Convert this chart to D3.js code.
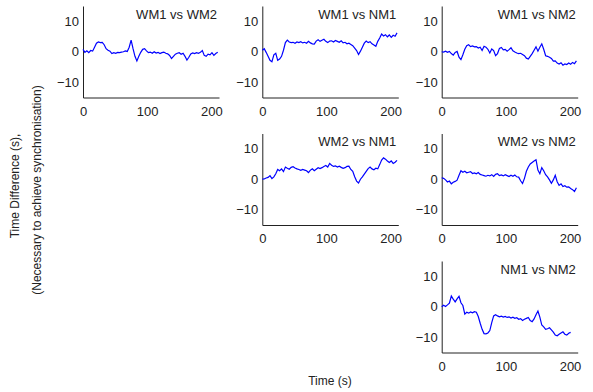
<!DOCTYPE html>
<html>
<head>
<meta charset="utf-8">
<script src="https://cdn.jsdelivr.net/npm/d3@7"></script>
<style>
  body { margin: 0; background: #fff; }
  svg { display: block; font-family: "Liberation Sans", Arial, sans-serif; }
</style>
</head>
<body>
<div id="chart"></div>
<script>
// Datos (una muestra cada 3 s)
const step = 3;
const xTicks = [0, 100, 200];
const yTicks = [-10, 0, 10];

const wm1wm2 = [0.8, -0.2, 0.3, -0.3, 0.4, 0.2, 1.5, 2.8, 3.2, 3.0, 3.1, 2.3, 1.0, 0.5, 0.2, -0.6, -0.3, -0.5, -0.2, -0.3,
  -0.1, 0.0, 0.3, 0.1, 1.5, 3.8, 1.0, -1.5, -3.0, -1.5, -0.2, 0.8, 1.0, 0.3, -0.3, -0.1, -0.5, 0.0, -0.4, -0.2,
  -0.6, -0.3, -0.1, -0.5, -0.7, -1.2, -2.2, -1.5, -0.8, -0.5, -0.3, -0.8, -0.5, -1.5, -2.7, -1.8, -0.7, -0.4, -0.6, -0.3,
  -0.5, -0.2, 0.4, -1.2, -1.5, -0.8, -1.0, -0.3, -1.2, -0.6, -0.2];

const wm1nm1 = [0.5, 1.0, -0.2, -1.5, -2.8, -3.3, -1.0, -0.5, -2.8, -2.4, -1.5, 0.5, 3.0, 3.8, 3.2, 3.0, 3.1, 2.8, 3.2, 3.0,
  3.3, 2.9, 3.1, 2.8, 3.4, 2.9, 2.6, 2.5, 3.5, 3.9, 3.4, 3.8, 4.1, 3.4, 3.0, 3.5, 3.6, 3.2, 3.7, 3.4,
  3.1, 3.6, 2.9, 3.1, 2.6, 2.8, 2.4, 2.0, 1.2, 0.4, -0.9, 0.2, 1.5, 2.8, 3.5, 3.0, 3.3, 2.6, 2.2, 1.8,
  3.4, 4.5, 5.8, 5.2, 5.6, 4.9, 5.5, 4.7, 5.4, 5.1, 6.2];

const wm1nm2 = [0.0, -0.1, 0.2, -0.2, 0.1, -0.6, -1.1, -0.2, 0.1, -1.8, -2.6, -1.0, 0.8, 2.0, 2.3, 1.7, 1.9, 1.6, 1.7, 1.2,
  1.5, 0.4, 1.8, 1.5, 0.8, -0.4, 0.9, 0.4, -1.3, -0.6, 1.1, 1.4, 0.6, 0.8, 0.2, 0.7, 1.3, 0.3, -0.1, -0.4,
  -0.6, -0.5, -0.9, -1.3, -2.1, -2.4, -1.5, -0.6, 0.5, 1.6, 0.2, 1.5, 2.6, 0.8, -1.3, -1.5, -1.8, -2.2, -3.1, -3.0,
  -3.7, -4.0, -3.6, -4.4, -4.0, -4.2, -3.7, -4.1, -3.5, -3.9, -3.0];

const wm2nm1 = [0.0, 0.1, 0.4, 0.6, 1.2, 0.2, 0.8, 1.8, 3.2, 2.8, 3.4, 2.5, 4.0, 3.6, 3.3, 3.9, 4.1, 3.7, 3.4, 3.2,
  2.9, 3.2, 3.0, 2.8, 2.2, 3.0, 3.4, 2.8, 3.3, 3.8, 3.5, 3.8, 4.2, 4.5, 4.0, 5.2, 4.6, 4.2, 4.4, 4.0,
  4.3, 3.9, 3.6, 3.8, 4.2, 4.3, 3.2, 2.6, 0.8, -0.6, -1.2, 0.0, 0.8, 1.7, 2.6, 3.5, 4.0, 3.4, 3.1, 3.6,
  3.4, 4.8, 6.3, 7.0, 6.6, 6.0, 5.5, 6.0, 5.2, 5.6, 6.2];

const wm2nm2 = [0.5, 0.3, -0.2, -0.9, -0.6, -1.5, -1.0, -0.7, -0.3, 1.3, 2.8, 2.3, 2.6, 2.1, 2.3, 2.5, 1.9, 2.1, 1.8, 2.2,
  1.6, 1.4, 1.2, 1.0, 1.3, 1.1, 1.5, 0.9, 1.6, 1.8, 1.2, 1.4, 1.1, 1.5, 1.2, 0.9, 1.3, 1.0, 1.4, 0.8,
  0.7, -0.5, -1.4, 0.3, 2.6, 4.0, 5.0, 5.5, 6.0, 6.4, 3.0, 1.8, 3.8, 2.8, 1.5, 0.8, -0.2, -1.3, -0.2, 1.3,
  -0.8, -2.0, -1.5, -2.4, -2.1, -2.6, -2.5, -3.0, -3.4, -4.0, -2.8];

const nm1nm2 = [0.0, 0.5, 0.1, 0.6, 1.2, 3.5, 2.5, 1.6, 2.6, 3.4, 1.3, 0.4, -2.4, -1.8, -2.1, -1.7, -2.0, -1.6, -1.8, -3.2,
  -5.4, -7.4, -8.8, -8.9, -8.6, -7.8, -5.2, -3.0, -2.6, -3.0, -3.3, -3.1, -3.4, -3.2, -3.5, -3.3, -3.7, -3.4, -3.8, -3.6,
  -4.1, -3.9, -4.5, -4.1, -3.8, -3.5, -4.5, -4.9, -4.0, -2.6, -1.4, -3.4, -6.0, -6.6, -7.4, -7.2, -6.9, -7.6, -8.3, -9.3,
  -9.5, -9.0, -8.6, -8.2, -9.0, -9.3, -8.7, -8.4];

// Paneles: fila, columna, título, serie
const panels = [
  { title: 'WM1 vs WM2', row: 0, col: 0, data: wm1wm2 },
  { title: 'WM1 vs NM1', row: 0, col: 1, data: wm1nm1 },
  { title: 'WM1 vs NM2', row: 0, col: 2, data: wm1nm2 },
  { title: 'WM2 vs NM1', row: 1, col: 1, data: wm2nm1 },
  { title: 'WM2 vs NM2', row: 1, col: 2, data: wm2nm2 },
  { title: 'NM1 vs NM2', row: 2, col: 2, data: nm1nm2 }
];

const W = 593, H = 392;
const pw = 136, ph = 91.5;
const colX = [83, 262.3, 441.7];
const rowY = [6, 133.5, 261];

const svg = d3.select('#chart').append('svg')
  .attr('width', W).attr('height', H);

const x = d3.scaleLinear().domain([0, 212]).range([0, pw]);
const y = d3.scaleLinear().domain([-15, 15]).range([ph, 0]);
const line = d3.line().x((d, i) => x(i * step)).y(d => y(d));

panels.forEach(p => {
  const g = svg.append('g')
    .attr('transform', `translate(${colX[p.col]},${rowY[p.row]})`);

  const xAxis = g.append('g')
    .attr('transform', `translate(0,${ph})`)
    .call(d3.axisBottom(x).tickValues(xTicks).tickSize(0).tickPadding(9).tickSizeOuter(0));
  const yAxis = g.append('g')
    .call(d3.axisLeft(y).tickValues(yTicks).tickSize(0).tickPadding(4).tickSizeOuter(0));

  [xAxis, yAxis].forEach(a => {
    a.select('.domain').attr('stroke', '#222').attr('stroke-width', 1);
    a.selectAll('text').attr('font-size', 13).attr('fill', '#222')
      .attr('font-family', '"Liberation Sans", Arial, sans-serif');
  });

  g.append('path')
    .datum(p.data)
    .attr('d', line)
    .attr('fill', 'none')
    .attr('stroke', '#0000ff')
    .attr('stroke-width', 1.2);

  g.append('text')
    .attr('x', pw - 2)
    .attr('y', 12.5)
    .attr('text-anchor', 'end')
    .attr('font-size', 13)
    .attr('fill', '#222')
    .text(p.title);
});

// Etiquetas de ejes
svg.append('text')
  .attr('x', 330).attr('y', 385)
  .attr('text-anchor', 'middle')
  .attr('font-size', 12)
  .attr('fill', '#222')
  .text('Time (s)');

svg.append('text')
  .attr('transform', 'translate(19,186) rotate(-90)')
  .attr('text-anchor', 'middle')
  .attr('font-size', 12)
  .attr('fill', '#222')
  .text('Time Difference (s),');

svg.append('text')
  .attr('transform', 'translate(41,190) rotate(-90)')
  .attr('text-anchor', 'middle')
  .attr('font-size', 12)
  .attr('fill', '#222')
  .text('(Necessary to achieve synchronisation)');
</script>
</body>
</html>
